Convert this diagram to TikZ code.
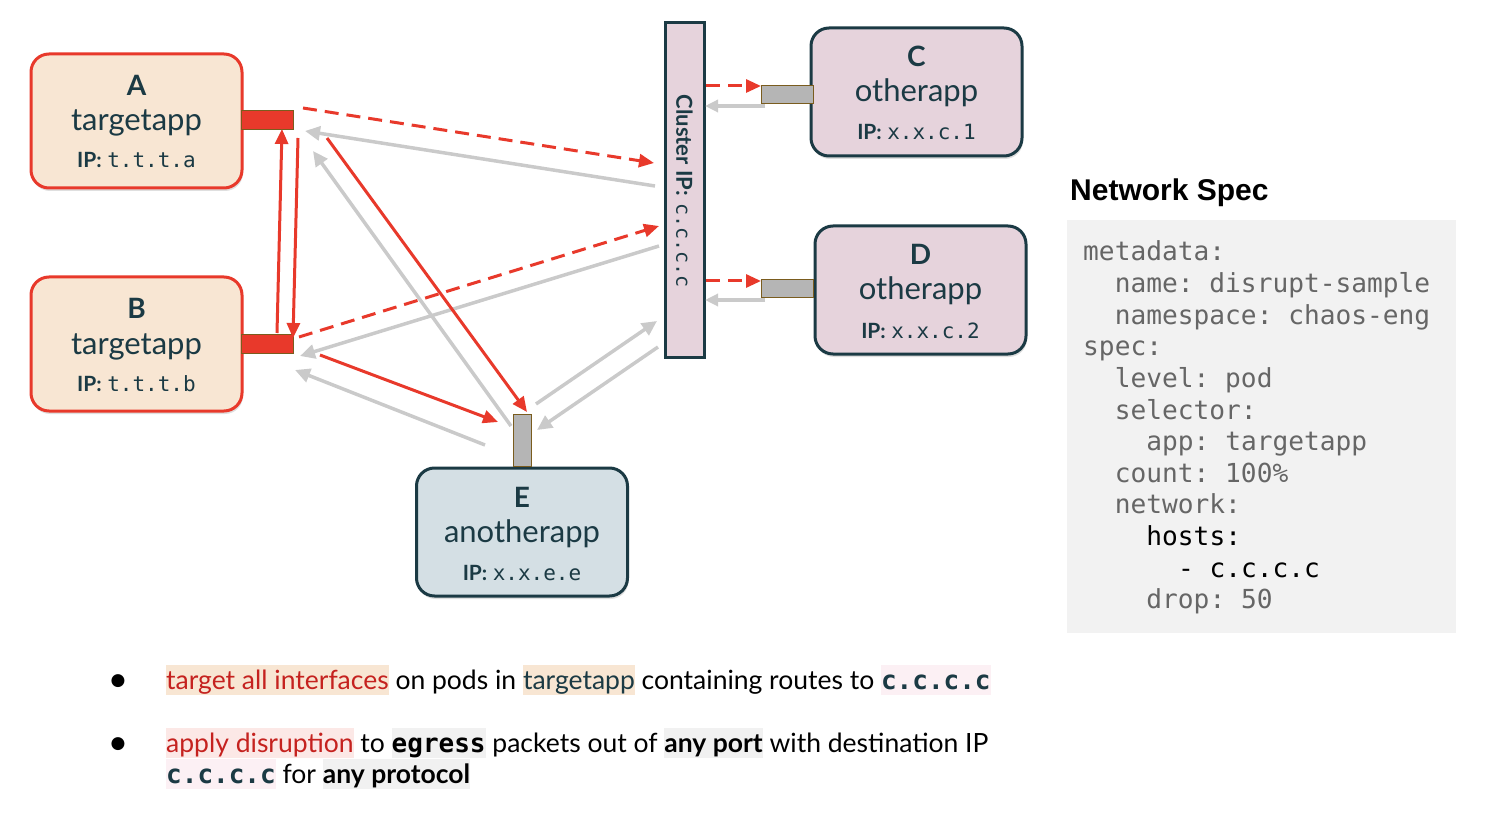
\documentclass[tikz,border=0pt]{standalone}
\usepackage{fontspec}
\setmainfont{Lato}
\newfontfamily\labfont{Lato}
\newfontfamily\monofont{DejaVu Sans Mono}
\newfontfamily\ttlfont{Liberation Sans}
\newfontfamily\bulfont{Lato}
\newfontfamily\symfont{DejaVu Sans}
\usetikzlibrary{arrows.meta,shadows}
\definecolor{redl}{HTML}{E8392B}
\definecolor{peach}{HTML}{F8E6D3}
\definecolor{pinkf}{HTML}{E6D3DC}
\definecolor{bluef}{HTML}{D4DFE4}
\definecolor{darkc}{HTML}{1B3A44}
\definecolor{grayl}{HTML}{CACACA}
\definecolor{portg}{HTML}{B5B5B5}
\definecolor{porto}{HTML}{7A5C1E}
\definecolor{codebg}{HTML}{F2F2F2}
\definecolor{codetx}{HTML}{666666}
\definecolor{txtred}{HTML}{C5221F}
\definecolor{hlpink}{HTML}{FCE8E6}
\definecolor{hlc}{HTML}{FCF0F4}
\definecolor{hlgray}{HTML}{F1F1F1}
\newcommand\hst{\rule[-6pt]{0pt}{30pt}}
\newcommand\hbg[2]{{\setlength\fboxsep{0pt}\colorbox{#1}{\hst#2}}}
\newcommand\bmono[1]{{\monofont\bfseries\fontsize{26}{30}\selectfont #1}}
\newcommand\ipm[1]{{\monofont\fontsize{21}{24}\selectfont #1}}
\newlength\chw
\setlength\chw{15.8pt}
\begin{document}
\frenchspacing
\begin{tikzpicture}[x=1pt,y=-1pt,
  podbox/.style={draw=#1, line width=3pt, rounded corners=18pt, inner sep=0pt,
    minimum width=211pt, drop shadow={shadow xshift=1pt, shadow yshift=-3pt, opacity=0.25}},
  ttl/.style={anchor=base, inner sep=0pt, text=darkc, font=\labfont\bfseries\fontsize{28}{30}\selectfont},
  nm/.style={anchor=base, inner sep=0pt, text=darkc, font=\labfont\fontsize{31}{34}\selectfont},
  ipl/.style={anchor=base, inner sep=0pt, text=darkc, font=\labfont\fontsize{21}{24}\selectfont},
  port/.style={draw=porto, line width=1pt, inner sep=0pt, fill=#1},
  garr/.style={draw=grayl, line width=3.5pt, -{Triangle[length=15pt,width=14pt]}},
  rarr/.style={draw=redl, line width=3pt, -{Triangle[length=15pt,width=13pt]}},
  rdash/.style={rarr, dash pattern=on 14pt off 8pt},
  code/.style={anchor=base west, inner sep=0pt, text=codetx, font=\monofont\fontsize{26.2}{30}\selectfont},
  bul/.style={anchor=base west, inner sep=0pt, font=\bulfont\fontsize{26.5}{30}\selectfont}
]
\useasboundingbox (0,0) rectangle (1486,818);

% pods
\node[podbox=redl, fill=peach, minimum height=134pt] (A) at (136.5,121) {};
\node[podbox=redl, fill=peach, minimum height=134pt] (B) at (136.5,344) {};
\node[podbox=darkc, fill=pinkf, minimum height=128pt] (C) at (916.5,92) {};
\node[podbox=darkc, fill=pinkf, minimum height=128pt] (D) at (920.5,290) {};
\node[podbox=darkc, fill=bluef, minimum height=128pt] (E) at (522,532) {};

\node[ttl] (At) at (136.5,96) {A};
\node[nm] (An) at (136.5,131) {targetapp};
\node[ipl] (Ai) at (136.5,168) {\textbf{IP:} \ipm{t.t.t.a}};
\node[ttl] (Bt) at (136.5,319) {B};
\node[nm] (Bn) at (136.5,354) {targetapp};
\node[ipl] (Bi) at (136.5,391) {\textbf{IP:} \ipm{t.t.t.b}};
\node[ttl] (Ct) at (916.5,67) {C};
\node[nm] (Cn) at (916.5,102) {otherapp};
\node[ipl] (Ci) at (916.5,140) {\textbf{IP:} \ipm{x.x.c.1}};
\node[ttl] (Dt) at (920.5,265) {D};
\node[nm] (Dn) at (920.5,300) {otherapp};
\node[ipl] (Di) at (920.5,338) {\textbf{IP:} \ipm{x.x.c.2}};
\node[ttl] (Et) at (522,507) {E};
\node[nm] (En) at (522,542) {anotherapp};
\node[ipl] (Ei) at (522,580) {\textbf{IP:} \ipm{x.x.e.e}};

% cluster IP bar
\node[draw=darkc, fill=pinkf, line width=3pt, minimum width=39pt, minimum height=334pt, inner sep=0pt] (K) at (684.5,190) {};
\node[rotate=-90, inner sep=0pt, text=darkc, font=\labfont\fontsize{22}{24}\selectfont] (Kt) at (684.5,191) {\textbf{Cluster IP:}\hspace{7pt}{\monofont\fontsize{20}{24}\selectfont c.c.c.c}};

% ports
\node[port=redl, minimum width=52pt, minimum height=19pt] (pA) at (267,120.5) {};
\node[port=redl, minimum width=52pt, minimum height=18pt] (pB) at (267,344) {};
\node[port=portg, minimum width=52pt, minimum height=18pt] (pC) at (787,95) {};
\node[port=portg, minimum width=52pt, minimum height=18pt] (pD) at (787,289) {};
\node[port=portg, minimum width=18pt, minimum height=52pt] (pE) at (522,440) {};

% endpoints
\coordinate (a1) at (303,108); \coordinate (k1) at (654,163);
\coordinate (k2) at (655,186); \coordinate (a2) at (305,131);
\coordinate (b1) at (299,337); \coordinate (k3) at (659,226);
\coordinate (k4) at (659,246); \coordinate (b2) at (300,356);
\coordinate (bu) at (277,333); \coordinate (au) at (282,129);
\coordinate (ad) at (298,138); \coordinate (bd) at (293,338);
\coordinate (a3) at (327,138); \coordinate (e1) at (527,412);
\coordinate (b3) at (320,355); \coordinate (e2) at (498,422);
\coordinate (e3) at (485,445); \coordinate (b4) at (295,370);
\coordinate (e4) at (511,426); \coordinate (a4) at (313,151);
\coordinate (e5) at (536,404); \coordinate (k5) at (657,321);
\coordinate (k6) at (658,347); \coordinate (e6) at (537,430);
\coordinate (k7) at (706,86); \coordinate (c1) at (761,86);
\coordinate (c2) at (765,106); \coordinate (k8) at (705,106);
\coordinate (k9) at (706,281); \coordinate (d1) at (761,281);
\coordinate (d2) at (765,300); \coordinate (k10) at (705,300);

% grey arrows
\draw[garr] (k2) -- (a2);
\draw[garr] (k4) -- (b2);
\draw[garr] (e3) -- (b4);
\draw[garr] (e4) -- (a4);
\draw[garr] (e5) -- (k5);
\draw[garr] (k6) -- (e6);
\draw[draw=grayl, line width=3.5pt, -{Triangle[length=13pt,width=12pt]}] (c2) -- (k8);
\draw[draw=grayl, line width=3.5pt, -{Triangle[length=13pt,width=12pt]}] (d2) -- (k10);
% red arrows
\draw[rdash] (a1) -- (k1);
\draw[rdash] (b1) -- (k3);
\draw[rdash] (k7) -- (c1);
\draw[rdash] (k9) -- (d1);
\draw[rarr] (bu) -- (au);
\draw[rarr] (ad) -- (bd);
\draw[rarr] (a3) -- (e1);
\draw[rarr] (b3) -- (e2);

% network spec
\node[anchor=base west, inner sep=0pt, font=\ttlfont\bfseries\fontsize{30}{32}\selectfont] (ns) at (1070,201) {Network Spec};
\node[fill=codebg, minimum width=389pt, minimum height=413pt, inner sep=0pt, anchor=north west] (cb) at (1067,220) {};
\node[code] (l1) at (1083,261) {metadata:};
\node[code] (l2) at (1083,292.6) {\hspace*{2\chw}name: disrupt-sample};
\node[code] (l3) at (1083,324.2) {\hspace*{2\chw}namespace: chaos-eng};
\node[code] (l4) at (1083,355.8) {spec:};
\node[code] (l5) at (1083,387.4) {\hspace*{2\chw}level: pod};
\node[code] (l6) at (1083,419) {\hspace*{2\chw}selector:};
\node[code] (l7) at (1083,450.6) {\hspace*{4\chw}app: targetapp};
\node[code] (l8) at (1083,482.2) {\hspace*{2\chw}count: 100\%};
\node[code] (l9) at (1083,513.8) {\hspace*{2\chw}network:};
\node[code, text=black] (l10) at (1083,545.4) {\hspace*{4\chw}hosts:};
\node[code, text=black] (l11) at (1083,577) {\hspace*{6\chw}- c.c.c.c};
\node[code] (l12) at (1083,608.6) {\hspace*{4\chw}drop: 50};

% bullets
\node[inner sep=0pt, font=\symfont\fontsize{17}{20}\selectfont] (bl1) at (118,681) {●};
\node[inner sep=0pt, font=\symfont\fontsize{17}{20}\selectfont] (bl2) at (118,744) {●};
\node[bul] (t1) at (166,689) {\hbg{peach}{\textcolor{txtred}{target all interfaces}} on pods in \hbg{peach}{\textcolor{darkc}{targetapp}} containing routes to \hbg{hlc}{\textcolor{darkc}{\bmono{c.c.c.c}}}};
\node[bul] (t2) at (166,752) {\hbg{hlpink}{\textcolor{txtred}{apply disruption}} to \hbg{hlgray}{\bmono{egress}} packets out of \hbg{hlgray}{\textbf{any port}} with destination IP};
\node[bul] (t3) at (166,783) {\hbg{hlc}{\textcolor{darkc}{\bmono{c.c.c.c}}} for \hbg{hlgray}{\textbf{any protocol}}};
\end{tikzpicture}
\end{document}
